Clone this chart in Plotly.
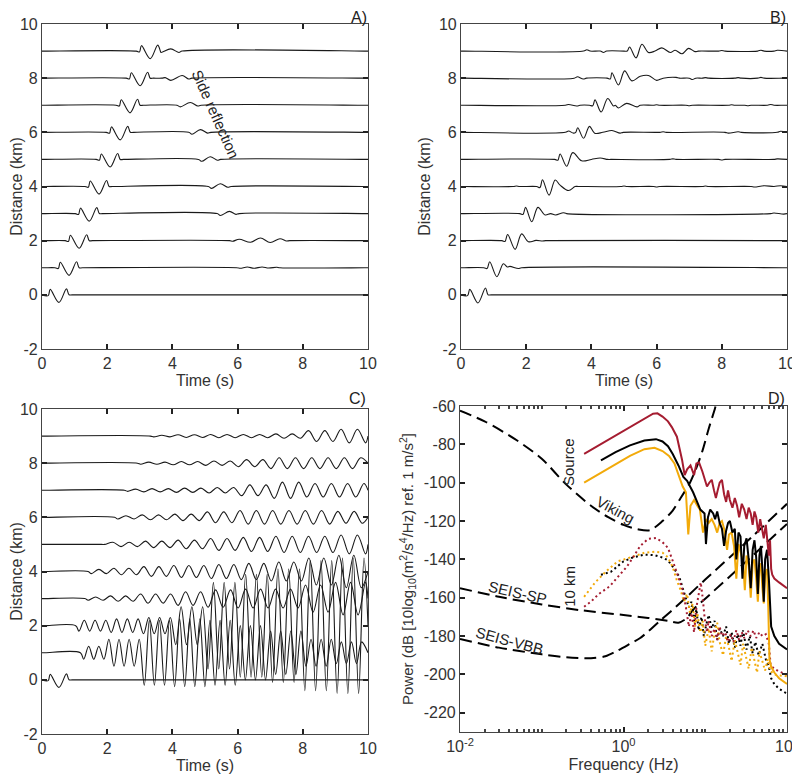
import plotly.graph_objects as go

# ---------------- shared axis values ----------------
TIME_TICKS = [0, 2, 4, 6, 8, 10]
DIST_TICKS = [-2, 0, 2, 4, 6, 8, 10]
DISTANCES = list(range(10))

# ---------------- Panel A ----------------
A_FIRST_PEAK = [0.25, 0.56, 0.87, 1.18, 1.48, 1.82, 2.13, 2.43, 2.74, 3.05]
WAVELET_DT = [-0.06, 0.0, 0.27, 0.5, 0.58]
WAVELET_AMP = [-0.03, 0.2, -0.28, 0.22, 0.0]
A_SIDE = [
    [],
    [(6.08, -0.02), (6.3, 0.03), (6.5, -0.02), (6.75, 0.03), (6.95, -0.01), (7.2, 0.02)],
    [(5.85, -0.02), (6.05, 0.05), (6.4, -0.06), (6.7, 0.1), (7.0, -0.07), (7.3, 0.07), (7.5, -0.01)],
    [(5.47, -0.07), (5.75, 0.08), (5.95, -0.03)],
    [(5.2, -0.07), (5.47, 0.1), (5.7, -0.03)],
    [(4.9, -0.07), (5.16, 0.1), (5.38, -0.03)],
    [(4.6, -0.07), (4.86, 0.1), (5.08, -0.03)],
    [(4.24, -0.06), (4.55, 0.1), (4.78, -0.03)],
    [(3.78, 0.02), (3.95, -0.08), (4.3, 0.1), (4.5, -0.03)],
    [(3.65, -0.05), (3.95, 0.08), (4.2, -0.05)],
]

# ---------------- Panel B ----------------
B_EVENTS = [
    [(0.2, -0.03), (0.27, 0.2), (0.52, -0.3), (0.75, 0.25), (0.83, 0.0)],
    [(0.8, -0.03), (0.88, 0.22), (1.1, -0.33), (1.3, 0.15), (1.42, 0.03), (1.5, 0.05), (1.76, -0.03)],
    [(1.35, -0.03), (1.43, 0.23), (1.66, -0.32), (1.86, 0.25), (2.07, -0.04), (2.3, 0.01), (2.5, -0.01)],
    [(1.9, -0.03), (1.98, 0.23), (2.17, -0.3), (2.36, 0.23), (2.58, -0.05), (2.75, 0.0), (2.9, -0.05),
     (3.14, 0.03), (9.6, 0.02), (9.9, -0.02)],
    [(1.7, 0.02), (2.42, -0.04), (2.5, 0.25), (2.7, -0.32), (2.89, 0.24), (3.04, 0.05), (3.3, -0.15),
     (3.5, 0.0), (5.0, 0.02), (6.0, -0.02), (7.5, 0.02), (9.0, -0.02), (9.3, 0.03), (9.6, 0.0), (9.8, 0.03)],
    [(2.97, -0.03), (3.04, 0.2), (3.24, -0.25), (3.43, 0.25), (3.7, -0.05), (4.0, 0.0), (4.27, 0.05),
     (4.5, 0.0), (6.5, 0.02), (8.0, -0.02), (9.7, 0.02)],
    [(3.3, 0.05), (3.45, -0.03), (3.52, 0.0), (3.58, 0.17), (3.76, -0.22), (3.94, 0.22), (4.1, -0.03),
     (4.35, 0.0), (4.63, 0.07), (4.88, -0.03), (6.2, 0.02), (8.2, -0.03), (8.5, 0.02), (9.8, 0.04)],
    [(3.3, 0.03), (3.55, -0.03), (4.04, -0.02), (4.11, 0.2), (4.3, -0.25), (4.5, 0.25), (4.68, -0.03),
     (4.73, 0.0), (4.83, -0.1), (5.08, 0.07), (5.4, -0.06), (6.0, 0.02), (7.0, -0.02), (8.3, 0.02),
     (8.8, -0.02), (9.5, 0.03)],
    [(3.57, 0.05), (3.75, -0.03), (4.58, -0.03), (4.63, 0.2), (4.83, -0.25), (5.02, 0.27), (5.24, -0.1),
     (5.5, 0.07), (5.75, 0.1), (6.0, -0.08), (6.2, 0.0), (6.6, 0.03), (7.1, -0.05), (7.5, 0.02),
     (8.5, 0.02), (9.2, 0.03)],
    [(3.86, 0.05), (4.37, -0.05), (5.1, 0.0), (5.17, 0.15), (5.37, -0.25), (5.55, 0.25), (5.75, -0.05),
     (5.95, 0.0), (6.16, 0.12), (6.42, -0.05), (6.57, 0.03), (6.78, -0.1), (6.98, 0.1), (7.18, -0.02),
     (8.0, 0.02), (9.2, 0.03), (9.7, 0.03)],
]

# ---------------- Panel C ----------------
C_ONSET = [0.0, 1.2, 1.05, 1.3, 1.4, 1.8, 2.2, 2.5, 2.9, 3.3]
C_HALF_PERIOD = [0.0, 0.155, 0.165, 0.23, 0.23, 0.25, 0.25, 0.25, 0.25, 0.25]
C_AMP = [
    [0, 0, 0, 0, 0, 0, 0, 0, 0, 0],
    [0, 0.24, 0.5, 1.2, 1.25, 1.2, 1.0, 0.8, 0.5, 0.4],
    [0, 0.2, 0.25, 0.3, 0.7, 1.6, 1.9, 2.1, 2.4, 2.5],
    [0, 0.06, 0.1, 0.17, 0.25, 0.32, 0.35, 0.35, 0.5, 0.6],
    [0, 0.08, 0.12, 0.18, 0.22, 0.26, 0.3, 0.35, 0.5, 0.6],
    [0, 0, 0.08, 0.12, 0.16, 0.22, 0.26, 0.3, 0.3, 0.35],
    [0, 0, 0.06, 0.09, 0.12, 0.2, 0.25, 0.25, 0.25, 0.22],
    [0, 0, 0.04, 0.06, 0.08, 0.1, 0.2, 0.3, 0.25, 0.25],
    [0, 0, 0.03, 0.04, 0.06, 0.08, 0.13, 0.2, 0.2, 0.2],
    [0, 0, 0, 0.03, 0.05, 0.06, 0.06, 0.08, 0.2, 0.25],
]

# ---------------- Panel D (spectra) ----------------
VIKING_F = [0.01, 0.02, 0.05, 0.1, 0.2, 0.4, 0.65, 1.0, 1.5, 2.1, 3.0, 4.0, 5.0, 6.5, 8.0, 9.3, 11.0, 13.2, 14.0]
VIKING_P = [-62.5, -68, -78, -87.5, -101, -112, -118, -122, -124.3, -124.8, -120, -114.5, -108, -100, -91, -83, -72, -61, -57]
SP_F = [0.01, 0.03, 0.1, 0.3, 1.0, 2.0, 3.5, 4.7, 6.0, 7.0, 10.0, 30.0, 100.0]
SP_P = [-155, -159.5, -163.5, -166.5, -169, -170.5, -172, -173, -170.5, -166.5, -160.5, -142, -121.5]
VBB_F = [0.01, 0.03, 0.1, 0.2, 0.4, 0.6, 0.85, 1.2, 1.6, 2.8, 5.0, 10.0, 30.0, 100.0]
VBB_P = [-181.5, -186, -189.5, -191, -191.5, -190.5, -187.5, -184, -181, -172, -162.5, -150.5, -132, -111]

RED_F = [0.33, 0.5, 0.8, 1.2, 1.8, 2.3, 2.6, 3.0, 3.5, 3.9, 4.5, 5.2, 5.6, 6.0, 6.6, 7.3, 7.8, 8.4, 9.2, 10.0,
         10.5, 11.2, 12.0, 12.8, 13.5, 14.2, 15, 16, 17, 18, 19, 20, 21.5, 23, 24.5, 26, 28, 30, 32, 34, 36,
         38, 40, 42, 44.5, 47, 50, 52, 55, 58, 60, 62, 64, 66, 70, 80, 100]
RED_P = [-85, -80.5, -75.5, -71, -67, -64, -63.8, -65.5, -68, -71, -76, -88, -96, -93, -91, -96, -90, -89.5, -94,
         -98.5, -102, -100, -98.5, -104, -108, -104, -100, -98.5, -106, -110, -104, -109, -113, -108, -112, -118,
         -111, -114, -119, -113, -116, -122, -115, -118, -126, -119, -125, -129, -122, -132, -138, -130, -145,
         -148, -150, -152, -155]
BLACK_F = [0.53, 0.8, 1.2, 1.8, 2.5, 3.0, 3.5, 4.0, 4.7, 5.4, 6.0, 7.1, 8.7, 9.8, 10.2, 10.8, 11.5, 12.5, 13.2,
           14, 15, 16, 17, 18, 19, 20, 21.5, 23, 24, 25.5, 27, 28.5, 30, 32, 34, 36, 38, 40, 42, 44, 46, 48,
           50, 52, 54, 57, 60, 62, 64, 70, 80, 100]
BLACK_P = [-88.3, -84, -80.5, -78, -77.3, -78.5, -81, -85, -91, -97, -99, -105, -114, -116, -132, -118, -114,
           -116, -119, -115, -121, -124, -133, -125, -121, -120, -126, -124, -140, -126, -128, -150, -133,
           -129, -140, -155, -135, -130, -139, -158, -138, -133, -145, -162, -140, -135, -150, -165, -175,
           -180, -184, -187]
ORANGE_F = [0.33, 0.5, 0.8, 1.2, 1.8, 2.4, 3.0, 3.6, 4.2, 4.8, 5.3, 5.8, 6.2, 6.6, 7.3, 8.0, 8.6, 9.4, 10.2, 11,
            12, 13, 14, 15, 16, 17, 18.5, 19.5, 21, 22.5, 24, 25.5, 27, 29, 30.5, 32, 34, 36, 38, 40, 42, 44,
            46, 48, 50, 52, 54, 57, 59, 61, 64, 70, 80, 100]
ORANGE_P = [-100, -95.5, -90, -86, -82.5, -81.8, -83.5, -86, -90, -97, -102, -105, -127, -112, -109, -112, -114,
            -126, -119, -121, -119, -122, -126, -121, -120, -124, -135, -127, -126, -133, -150, -132, -136, -141,
            -156, -138, -143, -160, -142, -140, -150, -162, -145, -142, -155, -163, -148, -145, -165, -192,
            -196, -199, -202, -205]

RED_10KM_F = [0.33, 0.4, 0.5, 0.68, 0.9, 1.1, 1.35, 1.6, 2.0, 2.5, 3.0, 3.5, 4.1, 4.8, 5.3, 5.8, 6.3, 6.8, 7.3,
              7.8, 8.3, 8.8, 9.3, 9.8, 10.5, 11, 12, 13, 14, 15, 16, 17.5, 19, 20.5, 22, 24, 26, 28, 30, 33, 36,
              39, 42, 46, 50, 55, 60, 63, 66, 70, 80, 100]
RED_10KM_P = [-164.7, -162, -158, -154, -148, -143.8, -138, -133, -129.3, -128.8, -131, -134, -142, -151, -156,
              -165, -175, -168, -178, -165, -158, -152, -160, -170, -178, -172, -180, -176, -182, -175, -180,
              -178, -183, -179, -183, -177, -182, -178, -181, -177, -180, -177, -181, -178, -180, -179, -184,
              -195, -196, -197, -198.5, -200]
ORANGE_10KM_F = [0.33, 0.45, 0.62, 0.85, 1.3, 1.8, 2.4, 3.0, 3.5, 4.0, 4.5, 5.0, 5.5, 6.0, 6.5, 7.0, 7.5, 8.0,
                 8.7, 9.3, 10, 11, 12, 13, 14, 15, 16.5, 18, 19.5, 21, 23, 25, 27, 29, 31, 34, 37, 40, 43, 46,
                 50, 54, 58, 62, 66, 70, 80, 100]
ORANGE_10KM_P = [-159.5, -152, -146, -141, -138.6, -136.5, -136, -136.5, -139, -144, -151, -156, -162, -158,
                 -168, -163, -175, -168, -178, -172, -185, -176, -188, -178, -173, -183, -190, -180, -186, -193,
                 -182, -188, -195, -184, -190, -197, -186, -193, -199, -188, -194, -198, -192, -198, -199, -200,
                 -200.5, -201]
BLACK_10KM_F = [0.53, 0.7, 1.0, 1.3, 1.8, 2.4, 3.0, 3.5, 4.2, 4.8, 5.3, 5.8, 6.3, 6.8, 7.3, 7.8, 8.3, 9.0, 9.6,
                10.3, 11, 12, 13, 14, 15, 16.5, 18, 19.5, 21, 23, 25, 27, 29, 32, 35, 38, 41, 45, 50, 55, 60,
                64, 70, 80, 100]
BLACK_10KM_P = [-148, -146.5, -141, -139, -137.5, -137.8, -139, -140.5, -145, -149, -155, -160, -165, -162, -172,
                -166, -177, -170, -180, -174, -169, -176, -172, -182, -176, -180, -175, -184, -178, -186, -179,
                -185, -177, -187, -180, -189, -183, -190, -184, -192, -196, -202, -205, -207.5, -210]

POWER_TICKS = [-60, -80, -100, -120, -140, -160, -180, -200, -220]
FREQ_TICKS = [0.01, 1, 100]
FREQ_TICKTEXT = ["10<sup>-2</sup>", "10<sup>0</sup>", "10<sup>2</sup>"]
DECADES = [0.01, 0.1, 1, 10]

RED = "#a51c30"
ORANGE = "#f2aa0a"
INK = "#1a1a1a"
FONT = "Liberation Sans, Arial, sans-serif"


def build_trace(events):
    pts = sorted(events)
    ts, vs = [0.0], [0.0]
    prev = 0.0
    for t, v in pts:
        if t - prev > 0.4:
            ts += [prev + 0.1, t - 0.1]
            vs += [0.0, 0.0]
        ts.append(t)
        vs.append(v)
        prev = t
    if 10 - prev > 0.4:
        ts += [prev + 0.1, 9.9]
        vs += [0.0, 0.0]
    ts.append(10.0)
    vs.append(0.0)
    return ts, vs


def direct_wavelet(t0):
    return [(t0 + dt, a) for dt, a in zip(WAVELET_DT, WAVELET_AMP)]


def c_events(d):
    if d == 0:
        return direct_wavelet(A_FIRST_PEAK[0])
    ev = []
    k = 0
    while True:
        t = C_ONSET[d] + (k + 0.5) * C_HALF_PERIOD[d]
        if t >= 9.95:
            break
        a = C_AMP[d][int(t)]
        ev.append((t, a if k % 2 else -a))
        k += 1
    return ev


fig = go.Figure()


def add_seis(events_list, xa, ya):
    for d, ev in zip(DISTANCES, events_list):
        ts, vs = build_trace(ev)
        fig.add_trace(go.Scatter(
            x=ts, y=[d + v for v in vs], mode="lines", xaxis=xa, yaxis=ya,
            line=dict(color=INK, width=1.1, shape="spline", smoothing=1.0),
            hoverinfo="skip", showlegend=False))


add_seis([direct_wavelet(A_FIRST_PEAK[d]) + A_SIDE[d] for d in DISTANCES], "x", "y")
add_seis(B_EVENTS, "x2", "y2")
add_seis([c_events(d) for d in DISTANCES], "x3", "y3")

LONGDASH = "12px,6px"
for f, p in [(VIKING_F, VIKING_P), (SP_F, SP_P), (VBB_F, VBB_P)]:
    fig.add_trace(go.Scatter(x=f, y=p, mode="lines", xaxis="x4", yaxis="y4",
                             line=dict(color="black", width=2, dash=LONGDASH, shape="spline", smoothing=0.8),
                             showlegend=False))
for f, p, c in [(BLACK_10KM_F, BLACK_10KM_P, "black"), (ORANGE_10KM_F, ORANGE_10KM_P, ORANGE),
                (RED_10KM_F, RED_10KM_P, RED)]:
    fig.add_trace(go.Scatter(x=f, y=p, mode="lines", xaxis="x4", yaxis="y4",
                             line=dict(color=c, width=2, dash="2px,3px"), showlegend=False))
for f, p, c in [(ORANGE_F, ORANGE_P, ORANGE), (BLACK_F, BLACK_P, "black"), (RED_F, RED_P, RED)]:
    fig.add_trace(go.Scatter(x=f, y=p, mode="lines", xaxis="x4", yaxis="y4",
                             line=dict(color=c, width=2), showlegend=False))

# The page body has an 8px margin; the figure is sized so page pixels = 8 + figure pixels.
OFF = 8
W, H = 800 - OFF, 779 - OFF


def xd(a, b):
    return [(a - OFF) / W, (b - OFF) / W]


def yd(top, bottom):
    return [1 - (bottom - OFF) / H, 1 - (top - OFF) / H]


def px(xp):
    return (xp - OFF) / W


def py(yp):
    return 1 - (yp - OFF) / H


axis_common = dict(showline=True, mirror="ticks", linecolor="#444", linewidth=1.2,
                   ticks="inside", ticklen=5, tickwidth=1.5, tickcolor="#222",
                   showgrid=False, zeroline=False, automargin=False,
                   tickfont=dict(family=FONT, size=16, color="#333"))
title_font = dict(family=FONT, size=16, color="#333")

xdom_left = xd(42, 368)
xdom_right = xd(461, 787)
ydom_top = yd(24, 349)
ydom_bot = yd(409, 734)
ydom_d = yd(406, 732)


def time_axis(dom, anchor):
    return dict(axis_common, domain=dom, anchor=anchor, range=[0, 10], tickvals=TIME_TICKS,
                ticktext=[str(v) for v in TIME_TICKS],
                title=dict(text="Time (s)", font=title_font, standoff=1))


def dist_axis(dom, anchor):
    return dict(axis_common, domain=dom, anchor=anchor, range=[-2, 10], tickvals=DIST_TICKS,
                ticktext=[str(v) for v in DIST_TICKS],
                title=dict(text="Distance (km)", font=title_font, standoff=4))


minor_vals = [dec * m for dec in DECADES for m in range(2, 11)]

fig.update_layout(
    width=W, height=H, margin=dict(l=0, r=0, t=0, b=0),
    paper_bgcolor="white", plot_bgcolor="white",
    xaxis=time_axis(xdom_left, "y"), yaxis=dist_axis(ydom_top, "x"),
    xaxis2=time_axis(xdom_right, "y2"), yaxis2=dist_axis(ydom_top, "x2"),
    xaxis3=time_axis(xdom_left, "y3"), yaxis3=dist_axis(ydom_bot, "x3"),
    xaxis4=dict(axis_common, domain=xd(460, 787), anchor="y4", type="log", range=[-2, 2],
                tickvals=FREQ_TICKS, ticktext=FREQ_TICKTEXT,
                minor=dict(ticks="inside", ticklen=3, tickcolor="#444", tickmode="array", tickvals=minor_vals),
                title=dict(text="Frequency (Hz)", font=title_font, standoff=4)),
    yaxis4=dict(axis_common, domain=ydom_d, anchor="x4", range=[-230, -60],
                tickvals=POWER_TICKS, ticktext=[str(v) for v in POWER_TICKS],
                title=dict(text="Power (dB [10log<sub>10</sub>(m<sup>2</sup>/s<sup>4</sup>/Hz) ref. 1 m/s<sup>2</sup>]",
                           font=dict(family=FONT, size=15, color="#333"), standoff=6)),
)

ann_font = dict(family=FONT, size=15, color="#222")
panel_font = dict(family=FONT, size=16, color="#222")
annotations = [
    dict(text="A)", x=px(368), y=1.0, xref="paper", yref="paper", xanchor="right", yanchor="top",
         borderpad=0, showarrow=False, font=panel_font),
    dict(text="B)", x=px(787), y=1.0, xref="paper", yref="paper", xanchor="right", yanchor="top",
         borderpad=0, showarrow=False, font=panel_font),
    dict(text="C)", x=px(368), y=py(398), xref="paper", yref="paper", xanchor="right", yanchor="middle",
         showarrow=False, font=panel_font),
    dict(text="D)", x=px(787), y=py(398), xref="paper", yref="paper", xanchor="right", yanchor="middle",
         showarrow=False, font=panel_font),
    dict(text="Side reflection", x=5.31, y=6.68, xref="x", yref="y", textangle=66, showarrow=False,
         font=ann_font),
    dict(text="Source", x=-0.679, y=-89.2, xref="x4", yref="y4", textangle=-90, showarrow=False, font=ann_font),
    dict(text="Viking", x=-0.104, y=-114.2, xref="x4", yref="y4", textangle=28, showarrow=False, font=ann_font),
    dict(text="SEIS-SP", x=-1.30, y=-157.4, xref="x4", yref="y4", textangle=13, showarrow=False, font=ann_font),
    dict(text="SEIS-VBB", x=-1.40, y=-182.4, xref="x4", yref="y4", textangle=15, showarrow=False, font=ann_font),
    dict(text="10 km", x=-0.654, y=-154.3, xref="x4", yref="y4", textangle=-90, showarrow=False, font=ann_font),
]
fig.update_layout(annotations=annotations)

fig.write_html("out.html")
